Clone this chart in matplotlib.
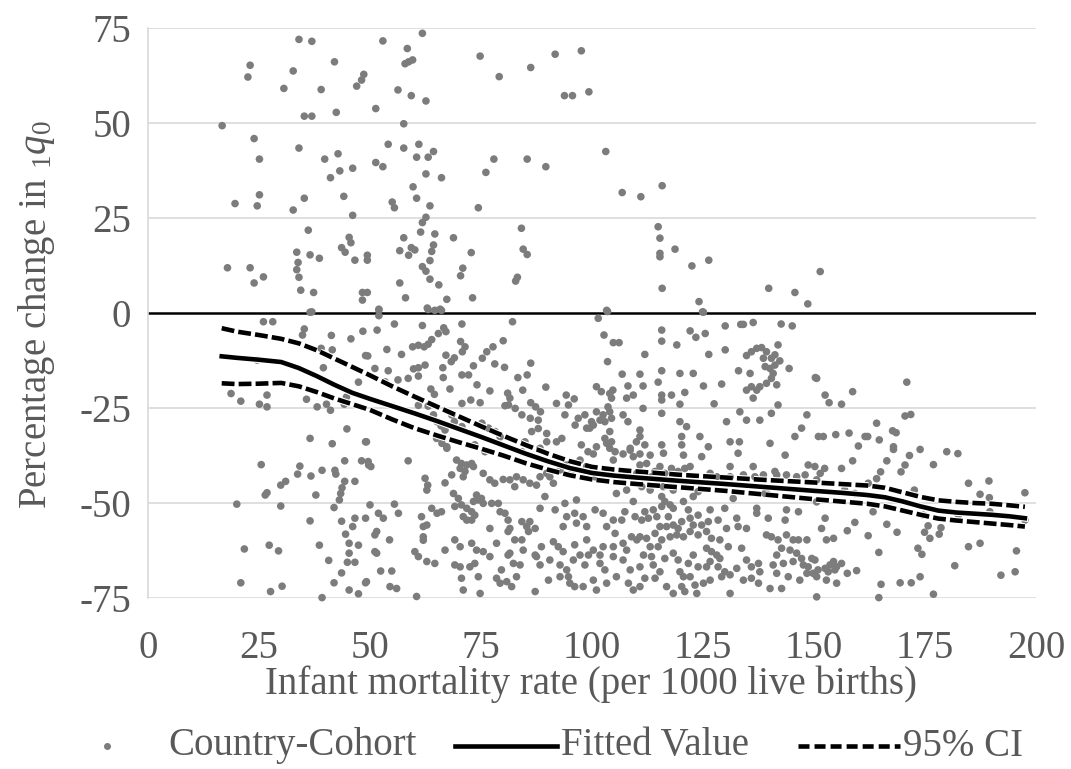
import matplotlib
matplotlib.use("Agg")
import matplotlib.pyplot as plt
from matplotlib.lines import Line2D
import matplotlib.patheffects as pe

plt.rcParams['font.family'] = ['Liberation Serif', 'DejaVu Serif']
plt.rcParams['mathtext.fontset'] = 'custom'
plt.rcParams['mathtext.rm'] = 'Liberation Serif'
plt.rcParams['mathtext.it'] = 'Liberation Serif:italic'
plt.rcParams['axes.unicode_minus'] = False

# ---------------- data (infant mortality rate, % change in 1q0) ----------------
pts_upper_left = [(34.0,72.0),(36.9,71.5),(23.0,65.2),(22.5,62.1),(32.7,63.7),(42.0,66.1),(48.6,62.8),(48.1,61.3),(47.0,59.7),(30.6,59.1),(39.0,58.8),(35.2,51.8),(36.9,51.8),(42.4,52.8),(16.7,49.3),(23.9,45.9),(34.0,43.4),(25.1,40.5),(39.8,40.5),(42.8,41.9),(43.2,37.4),(41.1,35.6),(46.1,38.1),(44.1,30.7),(25.1,31.1),(19.6,28.8),(24.6,28.2),(35.2,30.2),(32.7,27.1),(46.1,25.7),(36.1,21.8),(45.3,19.9),(45.7,18.5),(43.6,17.2),(44.4,16.0),(33.5,16.0),(33.8,13.3),(33.5,11.4),(34.0,9.4),(36.5,15.3),(38.6,14.4),(46.6,13.9),(49.4,15.2),(49.4,13.9),(17.9,11.9),(23.0,11.9),(26.0,9.5),(23.9,7.9),(34.4,6.0),(37.3,5.4),(48.3,5.4),(48.3,3.4),(49.4,5.4),(36.9,0.3)]
pts_upper_mid = [(61.8,73.6),(52.9,71.6),(58.4,69.6),(57.9,65.6),(58.7,66.1),(59.6,66.6),(74.8,67.6),(91.7,68.1),(97.6,69.0),(86.2,64.6),(79.1,62.2),(99.3,58.2),(93.8,57.2),(95.6,57.2),(56.3,58.7),(59.3,57.2),(62.6,55.8),(51.3,53.8),(57.6,49.8),(54.1,44.4),(57.6,43.4),(61.0,44.4),(64.3,42.5),(60.5,41.0),(63.1,41.0),(51.3,39.6),(52.9,38.5),(62.6,36.6),(66.1,35.6),(77.9,40.5),(76.1,37.0),(85.4,40.5),(89.6,38.5),(59.7,33.2),(60.5,30.2),(55.0,29.2),(55.5,27.7),(63.5,28.2),(74.4,27.7),(62.6,25.2),(61.8,23.8),(61.4,21.3),(64.6,20.8),(57.6,19.8),(68.8,19.8),(84.1,22.3),(56.7,16.4),(59.3,17.2),(60.1,16.6),(58.7,15.2),(64.3,17.9),(63.9,16.2),(63.5,13.8),(72.8,15.9),(84.5,16.8),(85.4,15.4),(61.8,12.2),(62.6,11.0),(63.5,8.9),(70.9,11.8),(70.4,9.8),(83.2,9.4),(82.8,8.4),(56.7,7.9),(65.5,7.4),(58.0,4.0),(67.3,3.6),(73.1,4.0),(52.0,1.0),(62.9,1.3),(65.8,1.0)]
pts_upper_right = [(103.1,42.5),(106.8,31.7),(111.0,30.6),(115.8,33.5),(114.9,22.7),(115.3,19.7),(115.3,15.7),(115.3,14.8),(118.7,16.8),(122.5,12.4),(126.3,13.9),(115.8,6.5),(124.1,3.0),(139.8,6.5),(145.7,5.4),(148.6,2.4),(151.4,10.9),(103.5,0.4),(124.9,0.3)]
pts_low_left = [(36.5,0.2),(26.0,-2.3),(28.1,-2.3),(35.2,-4.2),(34.8,-5.8),(41.3,-5.9),(45.7,-6.8),(48.4,-4.8),(39.0,-9.3),(41.5,-9.7),(49.0,-11.2),(24.6,-12.4),(39.5,-14.4),(47.4,-18.2),(18.7,-21.2),(20.9,-23.2),(26.8,-21.6),(25.1,-24.0),(26.8,-24.7),(35.7,-22.7),(38.1,-24.7),(40.2,-24.0),(41.1,-25.6),(44.7,-22.1),(44.2,-24.0),(44.8,-30.5),(36.5,-33.0),(41.5,-34.4),(49.0,-33.9),(25.5,-39.9),(34.2,-40.3),(33.7,-42.4),(36.7,-42.9),(39.2,-41.4),(42.1,-41.4),(42.3,-42.4),(44.3,-38.9),(48.1,-38.9),(49.7,-40.0),(31.0,-44.3),(29.9,-45.3),(26.8,-47.3),(26.4,-47.9),(44.3,-44.3),(43.7,-46.0),(43.4,-47.5),(43.1,-49.2),(46.6,-44.3),(37.8,-47.9),(20.0,-50.3),(29.9,-50.8),(41.9,-51.2),(36.5,-54.7),(43.6,-54.8),(46.6,-54.0),(46.1,-56.2),(44.5,-58.2),(49.0,-54.0),(21.7,-62.1),(27.3,-61.1),(29.4,-62.6),(38.6,-61.1),(45.3,-60.6),(47.4,-61.1),(45.3,-63.2),(44.9,-65.6),(46.6,-65.6),(40.7,-65.1),(43.6,-68.4),(20.9,-71.0),(41.9,-71.0),(49.0,-71.0),(27.6,-73.3),(30.2,-71.9),(45.3,-72.9),(47.4,-73.9),(39.2,-74.9)]
pts_mid_top = [(52.0,0.8),(52.0,-0.7),(63.1,0.9),(64.6,0.7),(66.1,0.7),(82.1,-2.3),(70.7,-2.9),(55.5,-2.9),(61.8,-3.3),(66.6,-3.9),(67.1,-4.9),(65.4,-5.4),(51.6,-4.5),(80.0,-7.3),(63.9,-7.0),(63.1,-8.2),(62.2,-8.9),(60.9,-8.5),(59.6,-8.9),(70.4,-7.5),(71.4,-8.9),(70.8,-10.2),(53.8,-9.6),(49.5,-11.3),(57.1,-10.9),(77.7,-8.9),(76.3,-10.2),(75.3,-11.9),(67.1,-11.1),(69.0,-11.8),(68.3,-12.8),(78.1,-13.4),(80.3,-14.3),(86.2,-13.2),(62.4,-13.7),(60.9,-14.4),(59.8,-14.7),(73.3,-13.9),(51.1,-14.6),(54.1,-15.2),(66.4,-14.4),(70.7,-16.3),(72.2,-16.3),(60.9,-16.6),(58.6,-17.2),(56.3,-17.6),(66.5,-17.0),(83.3,-17.0),(85.4,-16.3),(74.1,-18.9),(89.6,-19.5),(53.4,-18.1),(63.7,-20.0),(64.5,-21.4),(68.0,-20.0),(77.0,-20.5),(81.0,-21.1),(81.5,-22.4),(84.4,-20.3),(72.7,-22.9),(74.8,-23.6),(70.7,-23.8),(86.2,-23.6),(87.3,-24.7),(92.0,-23.8),(80.4,-24.4),(94.2,-21.6),(96.0,-22.6),(88.4,-26.0)]
pts_mid_band = [(60.9,-24.3),(63.1,-24.5),(49.2,-33.9),(49.6,-39.1),(50.2,-40.4),(58.6,-38.9),(62.4,-43.5),(63.0,-45.3),(62.8,-46.6),(64.3,-26.8),(65.1,-28.6),(66.0,-29.7),(66.9,-30.8),(65.0,-33.0),(66.2,-34.3),(67.3,-35.6),(68.4,-26.8),(69.0,-28.6),(70.7,-29.9),(75.2,-29.0),(76.7,-30.3),(78.2,-31.2),(79.3,-32.6),(81.2,-24.2),(82.7,-25.1),(84.2,-26.8),(86.1,-27.7),(87.9,-28.2),(86.4,-31.2),(87.9,-30.4),(89.8,-31.7),(93.2,-33.0),(98.4,-26.8),(96.9,-27.7),(99.9,-28.6),(98.8,-30.3),(94.7,-24.2),(93.9,-26.8),(96.2,-29.5),(73.6,-34.7),(92.0,-33.9),(89.8,-33.9),(84.9,-33.9),(97.6,-34.7),(88.3,-35.6),(84.2,-36.5),(75.9,-36.5),(99.1,-36.5)]
pts_mid_lowleft = [(50.0,-50.5),(51.9,-52.7),(53.0,-54.0),(51.5,-57.5),(51.1,-58.4),(55.5,-50.3),(56.4,-52.7),(54.4,-59.7),(51.1,-62.8),(51.5,-63.2),(52.4,-67.9),(54.9,-67.9),(49.2,-70.7),(54.5,-72.0),(56.0,-72.5),(60.5,-74.6),(61.6,-53.6),(62.8,-55.8),(62.0,-56.2),(63.9,-51.4),(65.1,-52.7),(62.0,-58.9),(62.0,-59.8),(60.1,-62.8),(60.9,-64.1),(62.8,-65.4),(64.6,-65.9)]
pts_dense_a = [(67.3,-35.2),(69.5,-38.7),(70.6,-39.6),(71.8,-40.0),(72.9,-39.6),(70.3,-40.9),(71.4,-41.7),(73.3,-40.4),(71.0,-43.1),(66.9,-44.7),(68.4,-42.6),(75.5,-42.2),(77.0,-43.9),(78.1,-44.8),(80.0,-43.8),(81.5,-43.9),(83.0,-43.1),(82.6,-45.7),(84.5,-43.9),(86.0,-44.8),(87.5,-45.3),(88.3,-43.1),(89.8,-42.2),(91.3,-44.8),(90.5,-43.1),(92.8,-41.3),(94.3,-40.0),(95.4,-41.3),(97.3,-38.7),(98.8,-40.4),(100.3,-37.1),(101.0,-35.2),(103.3,-34.3),(104.8,-38.7),(107.0,-37.1),(108.6,-36.1),(109.3,-37.8),(110.8,-37.1),(100.7,-43.1),(105.5,-47.5),(107.8,-46.6),(110.1,-42.2),
               (66.1,-52.3),(68.8,-47.5),(69.9,-48.8),(69.1,-50.9),(70.6,-50.5),(71.8,-51.4),(72.9,-52.3),(74.0,-47.9),(74.4,-49.2),(75.1,-48.8),(73.3,-49.6),(75.5,-50.1),(71.0,-53.6),(71.8,-54.5),(72.9,-54.5),(73.6,-53.2),(77.4,-50.1),(78.9,-50.1),(79.3,-52.3),(80.4,-52.7),(81.1,-54.5),(81.5,-56.7),(84.2,-54.9),(85.3,-56.2),(86.0,-54.9),(85.7,-57.5),(88.3,-51.4),(87.2,-56.7),(89.4,-48.3),(91.7,-51.8),(93.9,-50.1),(94.3,-53.6),(93.5,-56.2),(96.5,-49.2),(96.1,-52.7),(96.5,-55.3),(98.0,-53.6),(98.8,-56.2),(100.7,-51.8),(102.5,-52.7),(103.3,-56.2),(104.8,-54.5),(107.4,-52.3),(109.3,-49.6),(109.7,-53.6),(106.7,-54.5),(105.2,-58.0),(77.0,-56.7),(81.1,-57.5),(82.6,-59.7),(84.2,-59.7),
               (69.1,-59.7),(70.3,-61.5),(66.9,-62.4),(72.9,-60.6),(74.0,-62.4),(75.5,-62.8),(78.5,-60.6),(81.5,-63.2),(84.5,-62.4),(87.5,-64.1),(88.6,-61.5),(91.3,-60.2),(92.4,-61.5),(93.5,-62.8),(96.1,-61.0),(97.3,-63.7),(98.8,-59.7),(100.3,-62.4),(102.5,-61.5),(101.8,-63.7),(104.8,-61.5),(107.0,-60.6),(107.8,-62.4),(108.9,-58.9),(110.1,-59.7),
               (69.1,-66.3),(70.3,-66.8),(72.5,-66.8),(73.6,-65.9),(77.0,-64.1),(79.6,-67.6),(81.1,-63.7),(82.3,-65.9),(83.8,-66.3),(87.2,-63.7),(88.3,-66.3),(90.5,-65.0),(92.8,-66.3),(94.3,-67.6),(95.8,-65.0),(98.4,-66.3),(99.2,-63.7),(101.8,-65.9),(102.9,-67.6),(104.8,-64.1),(107.0,-65.0),(108.6,-67.6),(110.8,-66.8),
               (70.6,-69.8),(71.0,-72.9),(74.8,-73.8),(74.4,-69.4),(78.5,-69.8),(79.3,-71.1),(80.8,-70.7),(81.9,-72.0),(83.0,-69.4),(87.2,-73.3),(90.2,-70.3),(92.8,-69.4),(94.7,-69.4),(95.0,-71.1),(96.1,-72.0),(98.0,-72.0),(100.3,-70.3),(101.0,-72.9),(103.3,-71.1),(105.5,-69.4),(108.2,-71.1),(109.3,-72.9)]
pts_dense_b = [(111.9,-34.7),(113.1,-37.4),(115.7,-34.7),(116.1,-36.9),(120.2,-34.7),(120.6,-37.4),(124.7,-37.8),(126.2,-35.2),(131.1,-33.9),(132.9,-36.9),(140.1,-34.3),(143.5,-37.4),(110.8,-40.0),(112.3,-39.6),(114.2,-41.7),(115.3,-40.4),(116.4,-42.2),(117.9,-40.9),(119.4,-41.7),(120.9,-40.9),(122.1,-40.4),(131.1,-40.4),(136.3,-40.4),(141.2,-41.7),(143.8,-42.6),(148.7,-40.0),(150.2,-40.4),(152.4,-40.9),(113.4,-43.1),(116.1,-45.7),(118.3,-46.6),(120.9,-44.4),(123.2,-43.9),(122.8,-48.3),(123.9,-47.0),(126.6,-42.2),(128.1,-43.1),(131.1,-43.1),(134.1,-42.6),(136.7,-43.1),(138.6,-42.6),(139.3,-46.6),(141.6,-42.6),(146.1,-43.1),(148.0,-42.6),(151.4,-42.2),(111.2,-45.7),(113.1,-46.6),(115.7,-48.3),(120.6,-49.6),(131.8,-48.8),(139.0,-47.5),
               (111.9,-52.3),(113.8,-51.8),(112.7,-54.0),(111.2,-54.5),(114.6,-53.6),(115.7,-50.9),(116.4,-49.6),(117.6,-50.5),(118.3,-51.4),(117.2,-53.6),(115.3,-56.2),(116.8,-56.2),(118.3,-55.8),(119.4,-56.7),(120.2,-54.9),(119.1,-58.4),(120.6,-58.9),(117.6,-58.9),(110.8,-58.9),(112.3,-59.3),(114.2,-58.0),(115.7,-59.7),(113.1,-61.5),(114.9,-61.5),(121.7,-51.8),(122.1,-54.0),(122.8,-55.8),(123.9,-53.2),(124.7,-55.8),(126.2,-54.9),(126.6,-51.8),(128.4,-54.5),(129.9,-51.4),(132.6,-54.0),(134.8,-56.7),(132.9,-56.2),(130.3,-56.7),(122.1,-57.5),(123.9,-58.4),(125.8,-57.5),(126.9,-59.3),(128.8,-59.7),(125.8,-61.9),(126.9,-62.8),(128.1,-63.7),(128.8,-64.6),(130.7,-61.5),(133.7,-61.9),(137.1,-52.7),(137.1,-51.4),(139.7,-54.0),(143.8,-51.8),(146.5,-52.3),(143.5,-54.5),(139.3,-58.4),(140.4,-58.9),(141.9,-59.7),(143.8,-58.4),(145.3,-59.7),(146.5,-59.7),(148.4,-59.7),(142.7,-61.9),(144.6,-62.4),(146.1,-63.2),(147.2,-64.6),(141.6,-63.7),(140.8,-66.3),(143.1,-65.9),(145.3,-65.4),(147.6,-66.3),(149.5,-64.6),(148.7,-66.8),(149.8,-68.5),(151.7,-56.7),(152.5,-54.0),(152.8,-59.7),(154.4,-59.3),
               (111.6,-63.7),(113.4,-64.1),(113.8,-66.3),(116.4,-64.6),(118.3,-63.2),(119.4,-65.0),(122.8,-63.7),(121.7,-65.9),(123.9,-66.8),(119.8,-68.1),(125.8,-66.8),(126.6,-65.4),(128.4,-66.8),(129.9,-68.1),(131.1,-68.9),(132.6,-67.2),(134.8,-65.0),(135.9,-66.8),(137.5,-65.9),(137.8,-68.1),(111.9,-69.8),(114.2,-69.8),(110.8,-72.0),(116.8,-72.0),(118.3,-73.8),(120.2,-72.0),(122.1,-69.4),(123.2,-71.6),(125.1,-71.1),(126.6,-70.3),(129.2,-69.4),(131.1,-73.8),(134.1,-70.3),(135.9,-69.8),(137.5,-71.1),(140.1,-72.5),(142.7,-72.5),(144.2,-69.4),(146.8,-70.3),(148.4,-68.5),(150.6,-74.7),(152.8,-70.3),(155.1,-71.1),(141.6,-68.5),(120.6,-69.4),(115.3,-68.1),(120.9,-73.3),(123.6,-73.8)]
pts_right_top = [(101.4,-1.4),(103.3,0.7),(125.1,0.2),(102.7,-5.8),(104.8,-7.8),(106.1,-7.8),(103.5,-12.8),(111.9,-10.9),(115.7,-4.5),(115.7,-7.4),(119.1,-8.4),(122.1,-4.7),(123.4,-6.4),(125.5,-5.4),(126.3,-10.9),(130.0,-3.4),(130.0,-9.7),(133.5,-3.0),(134.1,-3.0),(136.3,-2.5),(134.8,-11.2),(135.9,-10.2),(137.1,-9.3),(138.2,-9.1),(139.3,-10.2),(138.6,-11.9),(140.4,-11.9),(141.2,-11.0),(141.9,-8.4),(142.3,-12.6),(141.2,-13.7),(140.1,-14.6),(139.0,-14.1),(140.8,-15.9),(140.4,-17.2),(139.3,-18.5),(137.8,-19.4),(137.1,-20.3),(135.9,-19.4),(136.3,-22.4),(141.6,-18.9),(144.4,-14.6),(142.6,-2.9),(145.1,-3.4),(141.9,-24.2),(133.3,-26.0),(134.8,-28.2),(137.8,-28.2),(140.4,-26.4),(130.3,-28.6),(129.2,-18.7),(133.0,-15.2),(135.6,-15.9),(134.8,-20.3),(127.5,-23.9),(125.1,-19.2),(122.8,-15.9),(119.8,-15.9),(120.9,-20.9),(119.8,-24.0),(117.9,-21.6),(115.7,-21.6),(115.7,-22.9),(115.7,-26.4),(114.9,-18.2),(115.7,-15.2),(111.5,-19.2),(111.5,-25.1),(110.8,-16.1),(108.1,-19.2),(107.8,-22.4),(109.3,-21.6),(106.8,-16.1),(101.0,-19.4),(102.1,-20.7),(104.0,-21.2),(104.7,-20.3),(104.4,-22.4),(103.6,-24.7)]
pts_right_band = [(101.0,-26.0),(102.5,-26.8),(104.0,-26.0),(104.4,-27.7),(102.9,-28.6),(101.8,-28.2),(100.3,-29.5),(99.5,-30.3),(107.0,-26.8),(108.1,-28.6),(110.8,-30.8),(110.8,-32.5),(110.0,-33.9),(104.0,-31.2),(102.9,-33.0),(104.4,-33.9),(119.8,-28.6),(121.3,-29.9),(120.2,-32.5),(124.3,-32.5),(133.2,-33.9),(145.7,-32.5),(147.2,-30.3),(148.4,-26.8),(151.0,-32.5),(150.3,-17.0),(104.0,-35.6),(105.2,-36.5),(108.6,-35.6)]
pts_far_right = [(150.6,-17.2),(152.5,-21.6),(153.4,-23.6),(156.2,-24.0),(158.7,-20.7),(170.9,-18.2),(170.5,-27.1),(171.8,-26.7),(164.1,-29.0),(152.1,-32.5),(154.9,-32.0),(157.9,-31.6),(161.5,-32.5),(162.1,-32.5),(160.0,-35.0),(164.7,-33.4),(167.7,-31.0),(168.5,-31.5),(167.9,-35.2),(167.9,-35.9),(173.9,-35.9),(179.9,-36.5),(182.4,-37.0),(171.5,-37.5),(158.7,-38.9),(166.4,-38.9),(176.9,-39.9),(170.5,-40.0),(169.6,-41.8),(156.2,-40.9),(165.0,-41.8),(164.1,-43.6),(150.6,-43.9),(162.2,-44.8),(156.9,-46.6),(159.2,-47.5),(172.6,-46.6),(184.8,-44.8),(189.4,-44.2),(187.4,-47.7),(189.5,-48.6),(197.5,-47.3),(150.6,-49.7),(163.3,-52.3),(174.6,-53.2),(182.5,-53.2),(189.6,-52.3),(197.5,-54.5),(159.2,-55.1),(157.5,-57.3),(166.4,-55.6),(168.7,-57.7),(162.2,-58.6),(175.7,-56.0),(174.9,-57.7),(176.1,-59.3),(178.6,-56.5),(178.2,-58.2),(173.4,-61.9),(174.3,-63.5),(184.8,-61.5),(187.4,-60.6),(195.6,-62.6),(164.6,-63.0),(150.2,-65.0),(150.9,-67.6),(150.6,-69.4),(152.5,-67.2),(153.6,-66.3),(154.4,-65.4),(155.1,-66.8),(156.2,-65.9),(154.7,-67.6),(153.2,-68.1),(157.5,-68.5),(159.6,-67.8),(181.7,-66.5),(192.1,-69.0),(195.3,-68.1),(173.9,-69.4),(169.4,-71.0),(171.9,-71.0),(165.1,-71.4),(176.9,-74.0),(164.6,-74.9)]

fit_x = [16.6, 20, 25, 30, 34, 38, 42, 46, 50, 55, 60, 65, 70, 75, 80, 85, 90, 95, 100, 105, 110, 120, 130, 140, 150, 156, 162, 166, 170, 174, 178, 182, 186, 190, 194, 197.5]
fit_y = [-11.4, -11.8, -12.3, -12.9, -14.5, -16.6, -18.9, -21.0, -22.6, -24.5, -26.4, -28.4, -30.5, -32.6, -34.8, -37.0, -39.0, -40.8, -42.1, -42.8, -43.3, -44.2, -45.0, -45.9, -46.8, -47.3, -47.9, -48.5, -49.6, -50.9, -52.0, -52.5, -52.8, -53.1, -53.5, -54.0]
ci_hi = [-4.0, -4.9, -5.8, -6.8, -8.0, -9.8, -12.0, -14.2, -16.4, -19.3, -22.0, -24.6, -27.2, -29.8, -32.3, -34.7, -37.0, -39.0, -40.5, -41.2, -41.7, -42.6, -43.3, -44.0, -44.6, -45.0, -45.4, -46.0, -47.2, -48.4, -49.3, -49.7, -50.0, -50.2, -50.6, -51.0]
ci_lo = [-18.5, -18.7, -18.6, -18.4, -19.3, -20.8, -22.5, -24.0, -25.5, -28.0, -30.3, -32.2, -34.0, -35.7, -37.5, -39.5, -41.2, -42.7, -43.8, -44.5, -45.0, -45.9, -46.8, -47.9, -49.0, -49.6, -50.2, -50.9, -52.0, -53.1, -54.1, -54.6, -55.0, -55.4, -55.8, -56.2]

x_ticks = [0, 25, 50, 75, 100, 125, 150, 175, 200]
y_ticks = [-75, -50, -25, 0, 25, 50, 75]
x_title = "Infant mortality rate (per 1000 live births)"
y_title = r"Percentage change in $_{\mathit{1}}\mathit{q}_{\mathit{0}}$"
legend_labels = ["Country-Cohort", "Fitted Value", "95% CI"]

# ---------------- figure ----------------
TXT = '#595959'
FS = 28
GRAY = '#7c7c7c'
LW = 3.3
DASH = (0, (2.8, 0.9))
fig = plt.figure(figsize=(10.71, 7.69), dpi=100)
ax = fig.add_axes([148/1071, 1-598/769, (1036-148)/1071, (598-28)/769])

all_pts = (pts_upper_left + pts_upper_mid + pts_upper_right + pts_low_left + pts_mid_top +
           pts_mid_band + pts_mid_lowleft + pts_dense_a + pts_dense_b + pts_right_top +
           pts_right_band + pts_far_right)
px = [p[0] for p in all_pts]
py = [p[1] for p in all_pts]

for yv in y_ticks:
    if yv != 0:
        ax.axhline(yv, color='#d9d9d9', lw=1.2, zorder=0)
ax.axhline(0, color='black', lw=1.8, zorder=1)

ax.scatter(px, py, s=30, color=GRAY, edgecolors='none', zorder=2, clip_on=False)

stroke = [pe.Stroke(linewidth=LW + 1.6, foreground='white'), pe.Normal()]
ax.plot(fit_x, ci_hi, color='black', lw=LW, linestyle=DASH, zorder=3, path_effects=stroke)
ax.plot(fit_x, ci_lo, color='black', lw=LW, linestyle=DASH, zorder=3, path_effects=stroke)
ax.plot(fit_x, fit_y, color='black', lw=LW, zorder=4, path_effects=stroke)

ax.set_xlim(0, 200)
ax.set_ylim(-75, 75)
ax.set_xticks(x_ticks)
ax.set_yticks(y_ticks)
ax.tick_params(length=0, labelsize=FS, labelcolor=TXT)
ax.tick_params(axis='y', pad=12)
ax.tick_params(axis='x', pad=23)
for s in ['top', 'right', 'bottom']:
    ax.spines[s].set_visible(False)
ax.spines['left'].set_color('#d9d9d9')
ax.spines['left'].set_linewidth(1.2)

fig.text(591/1071, 1-684/769, x_title, ha='center', va='center', fontsize=FS, color=TXT)
fig.text(37/1071, 1-315/769, y_title, ha='center', va='center', rotation=90, fontsize=FS, color=TXT)

# legend (manual, below the axes)
ly = 1-746/769
fig.add_artist(Line2D([107/1071], [ly], marker='o', markersize=4, color=GRAY, lw=0, transform=fig.transFigure))
fig.text(168/1071, ly, legend_labels[0], ha='left', va='center', fontsize=FS, color=TXT)
fig.add_artist(Line2D([455/1071, 557/1071], [ly, ly], color='black', lw=LW, transform=fig.transFigure))
fig.text(561/1071, ly, legend_labels[1], ha='left', va='center', fontsize=FS, color=TXT)
fig.add_artist(Line2D([798/1071, 900/1071], [ly, ly], color='black', lw=LW, linestyle=(0, (2.4, 1.1)), transform=fig.transFigure))
fig.text(903/1071, ly, legend_labels[2], ha='left', va='center', fontsize=FS, color=TXT)

fig.savefig('out.png', dpi=100, facecolor='white')
